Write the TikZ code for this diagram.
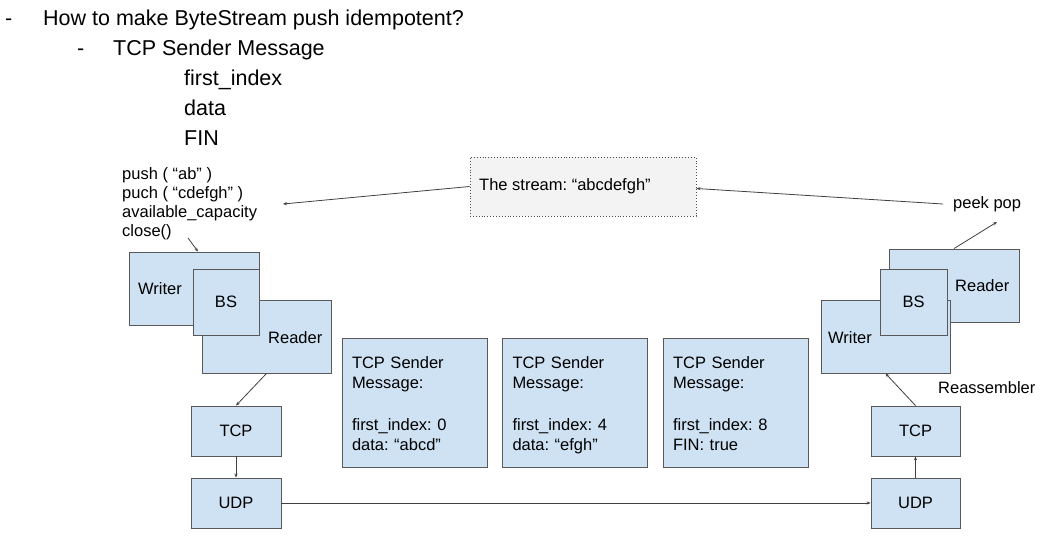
\documentclass[tikz,border=0pt]{standalone}
\usepackage{fontspec}
\setmainfont{Liberation Sans}
\frenchspacing
\usetikzlibrary{arrows.meta}
\definecolor{boxblue}{HTML}{CFE2F3}
\definecolor{boxline}{HTML}{595959}
\definecolor{streamfill}{HTML}{F3F3F3}
\definecolor{conn}{HTML}{404040}
\tikzset{
  bluebox/.style={draw=boxline, fill=boxblue, line width=0.9bp, inner sep=0pt, anchor=center},
  msgbox/.style={bluebox, align=left, text width=125bp, inner xsep=10bp, font=\fontsize{16.5bp}{20bp}\selectfont},
  lbl/.style={inner sep=0pt, font=\fontsize{16.5bp}{20bp}\selectfont},
  head/.style={inner sep=0pt, anchor=base west, font=\fontsize{21.5bp}{26bp}\selectfont},
  conn/.style={draw=conn, line width=0.8bp, -{Stealth[length=4bp,width=3.2bp]}},
}
\begin{document}
\begin{tikzpicture}[x=1bp,y=-1bp]
\useasboundingbox (0,0) rectangle (1048,540);

% header list
\node[head] (d1) at (5,25.5) {-};
\node[head] (h1) at (43,25.5) {How to make ByteStream push idempotent?};
\node[head] (d2) at (77,55.5) {-};
\node[head] (h2) at (113,55.5) {TCP Sender Message};
\node[head] (h3) at (184,85.5) {first\_index};
\node[head] (h4) at (184,115.5) {data};
\node[head] (h5) at (184,145.5) {FIN};

% writer operations
\node[lbl, anchor=north west, align=left, font=\fontsize{16.5bp}{19bp}\selectfont] (ops) at (122,167)
  {push ( “ab” )\\puch ( “cdefgh” )\\available\_capacity\\close()};

% stream box
\node[draw=black!70, dotted, fill=streamfill, line width=0.9bp, minimum width=226bp, minimum height=59bp, inner sep=0pt] (stream) at (583,186.5) {};
\node[lbl, anchor=west] (streamtxt) at (479,186) {The stream: “abcdefgh”};

% peek pop
\node[lbl, anchor=west, inner xsep=10bp] (peek) at (943,204) {peek pop};

% left bytestream
\node[bluebox, minimum width=130bp, minimum height=73bp] (lw) at (194,288.5) {};
\node[bluebox, minimum width=129bp, minimum height=73bp] (lr) at (266.5,336.5) {};
\node[bluebox, minimum width=66bp, minimum height=66bp, font=\fontsize{16.5bp}{20bp}\selectfont] (lbs) at (226,302) {BS};
\node[lbl, anchor=west] (lwt) at (138,288.5) {Writer};
\node[lbl, anchor=west] (lrt) at (268,338) {Reader};

\node[bluebox, minimum width=90bp, minimum height=50bp, font=\fontsize{16.5bp}{20bp}\selectfont] (ltcp) at (236,431) {TCP};
\node[bluebox, minimum width=90bp, minimum height=50bp, font=\fontsize{16.5bp}{20bp}\selectfont] (ludp) at (236,503) {UDP};

% right bytestream
\node[bluebox, minimum width=130bp, minimum height=73bp] (rr) at (954,285.5) {};
\node[bluebox, minimum width=129bp, minimum height=73bp] (rw) at (885.5,336.5) {};
\node[bluebox, minimum width=67bp, minimum height=66bp, font=\fontsize{16.5bp}{20bp}\selectfont] (rbs) at (913.5,302) {BS};
\node[lbl, anchor=west] (rwt) at (828,337.5) {Writer};
\node[lbl, anchor=west] (rrt) at (955,286) {Reader};
\node[lbl, anchor=west] (reas) at (938,388) {Reassembler};

\node[bluebox, minimum width=89bp, minimum height=50bp, font=\fontsize{16.5bp}{20bp}\selectfont] (rtcp) at (915.5,431) {TCP};
\node[bluebox, minimum width=89bp, minimum height=50bp, font=\fontsize{16.5bp}{20bp}\selectfont] (rudp) at (915.5,503) {UDP};

% messages
\node[msgbox, minimum width=145bp, minimum height=129bp] (m1) at (414.5,402.5)
  {\rule{0pt}{20bp}TCP Sender\\Message:\\[22bp]first\_index: 0\\data: “abcd”\strut};
\node[msgbox, minimum width=144bp, minimum height=129bp] (m2) at (575,402.5)
  {\rule{0pt}{20bp}TCP Sender\\Message:\\[22bp]first\_index: 4\\data: “efgh”\strut};
\node[msgbox, minimum width=143bp, minimum height=129bp] (m3) at (735.5,402.5)
  {\rule{0pt}{20bp}TCP Sender\\Message:\\[22bp]first\_index: 8\\FIN: true\strut};

% connectors
\coordinate (opsin) at (283,204);
\coordinate (closefrom) at (188,238);
\coordinate (peekin) at (997,222);
\draw[conn] (stream.west) -- (opsin);
\draw[conn] (peek.west) -- ([yshift=-2bp]stream.east);
\draw[conn] (closefrom) -- ([xshift=4bp]lw.north);
\draw[conn] (rr.north) -- (peekin);
\draw[conn] (lr.south) -- (ltcp.north);
\draw[conn] (ltcp.south) -- (ludp.north);
\draw[conn] (ludp.east) -- (rudp.west);
\draw[conn] (rudp.north) -- (rtcp.south);
\draw[conn] (rtcp.north) -- (rw.south);
\end{tikzpicture}
\end{document}
